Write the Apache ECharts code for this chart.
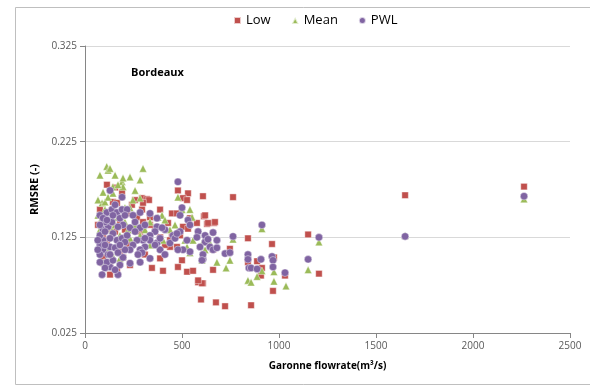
<!DOCTYPE html>
<html>
<head>
<meta charset="utf-8">
<script src="https://cdn.jsdelivr.net/npm/echarts@6/dist/echarts.min.js"></script>
<style>
  html, body { margin: 0; padding: 0; background: #fff; }
  #chart { width: 590px; height: 385px; }
</style>
</head>
<body>
<div id="chart"></div>
<script>
// Garonne flowrate (m3/s) and RMSRE pairs for each method
const lowFlow = [1650, 2263, 1150, 1206, 608, 763, 613, 629, 665, 840, 964, 747, 840, 887, 974, 660, 912, 907, 1031, 969,
  608, 402, 526, 557, 583, 603, 598, 675, 722, 856, 113, 155, 191, 144, 165, 242, 258, 294, 320, 330,
  299, 294, 387, 448, 474, 479, 531, 505, 526, 541, 619, 634, 670, 428, 505, 577, 531, 448, 438, 490,
  438, 474, 660, 500, 387, 479, 583, 180, 232, 196, 103, 93, 93, 129, 165, 335, 217, 268, 299, 180,
  113, 93, 155, 345, 77, 67, 387, 113,
  77, 139, 206, 284, 361, 222, 309, 103, 129, 412, 335];
const lowRmsre = [0.169, 0.178, 0.128, 0.087, 0.168, 0.167, 0.147, 0.139, 0.140, 0.124, 0.118, 0.113, 0.099, 0.100, 0.104, 0.091, 0.093, 0.085, 0.085, 0.069,
  0.077, 0.090, 0.089, 0.090, 0.078, 0.077, 0.060, 0.057, 0.053, 0.054, 0.180, 0.177, 0.172, 0.162, 0.161, 0.159, 0.164, 0.166, 0.165, 0.164,
  0.161, 0.154, 0.154, 0.150, 0.150, 0.174, 0.171, 0.166, 0.164, 0.145, 0.148, 0.140, 0.141, 0.140, 0.136, 0.140, 0.134, 0.126, 0.122, 0.127,
  0.115, 0.115, 0.112, 0.101, 0.103, 0.094, 0.080, 0.110, 0.096, 0.104, 0.112, 0.104, 0.098, 0.098, 0.091, 0.146, 0.150, 0.146, 0.141, 0.143,
  0.133, 0.125, 0.131, 0.093, 0.122, 0.138, 0.125, 0.117,
  0.154, 0.138, 0.133, 0.131, 0.135, 0.117, 0.107, 0.122, 0.086, 0.117, 0.138];

const meanFlow = [1650, 2263, 1206, 1150, 912, 763, 680, 747, 727, 912, 974, 887, 840, 856, 974, 1036, 112, 119, 129, 155,
  191, 196, 232, 284, 299, 93, 88, 103, 119, 144, 144, 196, 206, 232, 247, 284, 376, 397, 412, 479,
  500, 541, 552, 557, 526, 619, 541, 603, 402, 608, 644, 88, 103, 129, 170, 206, 77, 139, 180, 258,
  309, 77, 119, 335, 170, 67, 77, 258,
  67, 103, 155, 222, 284, 335, 98, 139, 180, 232, 438, 464, 515];
const meanRmsre = [0.127, 0.165, 0.120, 0.091, 0.134, 0.123, 0.099, 0.101, 0.093, 0.090, 0.089, 0.084, 0.080, 0.078, 0.079, 0.074, 0.199, 0.195, 0.197, 0.190,
  0.183, 0.187, 0.188, 0.185, 0.197, 0.172, 0.161, 0.162, 0.167, 0.178, 0.171, 0.178, 0.156, 0.156, 0.164, 0.166, 0.146, 0.148, 0.143, 0.167,
  0.154, 0.154, 0.146, 0.122, 0.115, 0.112, 0.109, 0.101, 0.122, 0.120, 0.119, 0.146, 0.141, 0.143, 0.146, 0.141, 0.133, 0.133, 0.127, 0.138,
  0.133, 0.117, 0.112, 0.141, 0.180, 0.164, 0.190, 0.174,
  0.148, 0.154, 0.138, 0.133, 0.127, 0.117, 0.099, 0.107, 0.103, 0.124, 0.133, 0.138, 0.122];

const pwlFlow = [1650, 2263, 1206, 1150, 912, 660, 763, 722, 747, 608, 840, 840, 907, 964, 969, 845, 856, 887, 969, 1031,
  170, 479, 191, 113, 139, 165, 191, 217, 335, 284, 247, 371, 500, 490, 531, 541, 583, 490, 454, 412,
  371, 361, 335, 335, 299, 268, 247, 309, 371, 387, 397, 438, 464, 474, 526, 577, 619, 644, 660, 680,
  593, 541, 505, 479, 608, 603, 284, 294, 196, 232, 180, 129, 113, 93, 93, 93, 119, 144, 165, 191,
  217, 232, 196, 170, 129, 155, 119, 170, 77, 77, 77, 103, 129, 103, 139, 155, 77, 129, 619, 680, 634,
  77, 93, 113, 144, 180, 206, 258, 284, 309, 258, 206, 232, 273, 335, 387, 412, 103, 144, 206, 77,
  66, 66, 103, 129, 309, 361, 180, 284, 155, 88];
const pwlRmsre = [0.126, 0.168, 0.125, 0.102, 0.138, 0.130, 0.126, 0.108, 0.109, 0.102, 0.107, 0.102, 0.102, 0.105, 0.101, 0.093, 0.093, 0.092, 0.094, 0.088,
  0.086, 0.183, 0.167, 0.151, 0.154, 0.151, 0.154, 0.154, 0.150, 0.151, 0.148, 0.145, 0.156, 0.148, 0.143, 0.138, 0.131, 0.131, 0.127, 0.133,
  0.136, 0.131, 0.127, 0.122, 0.122, 0.122, 0.117, 0.115, 0.119, 0.124, 0.135, 0.119, 0.124, 0.129, 0.122, 0.125, 0.120, 0.115, 0.112, 0.114,
  0.115, 0.110, 0.112, 0.112, 0.107, 0.101, 0.112, 0.109, 0.104, 0.098, 0.096, 0.094, 0.099, 0.112, 0.122, 0.133, 0.136, 0.129, 0.122, 0.124,
  0.127, 0.135, 0.138, 0.136, 0.115, 0.114, 0.107, 0.109, 0.127, 0.117, 0.107, 0.117, 0.124, 0.141, 0.141, 0.159, 0.148, 0.174, 0.127, 0.122, 0.123,
  0.138, 0.145, 0.143, 0.148, 0.145, 0.148, 0.141, 0.135, 0.138, 0.131, 0.120, 0.112, 0.107, 0.103, 0.112, 0.107, 0.093, 0.101, 0.112, 0.099,
  0.112, 0.122, 0.131, 0.107, 0.124, 0.117, 0.117, 0.099, 0.091, 0.086];

const seriesNames = ['Low', 'Mean', 'PWL'];
const xTicks = { min: 0, max: 2500, step: 500 };
const yTicks = { min: 0.025, max: 0.325, step: 0.1 };

const pair = (xs, ys) => xs.map((x, i) => [x, ys[i]]);

const chart = echarts.init(document.getElementById('chart'), null, { renderer: 'canvas' });
const baseFont = 'Open Sans, Liberation Sans, sans-serif';
const markerEdge = { borderColor: 'rgba(255,255,255,0.7)', borderWidth: 0.6, opacity: 1 };

chart.setOption({
  animation: false,
  backgroundColor: '#fff',
  graphic: [
    {
      type: 'rect', left: 13, top: 5, z: -10,
      shape: { width: 600, height: 377 },
      style: { fill: 'none', stroke: '#bfbfbf', lineWidth: 1 }
    },
    {
      type: 'text', left: 131, top: 67,
      style: { text: 'Bordeaux', font: 'bold 11px ' + baseFont, fill: '#000' }
    }
  ],
  legend: {
    top: 9, left: 228,
    itemWidth: 7, itemHeight: 7, itemGap: 20,
    textStyle: { fontFamily: baseFont, fontSize: 13, color: '#000' },
    data: [
      { name: 'Low', icon: 'rect' },
      { name: 'Mean', icon: 'triangle' },
      { name: 'PWL', icon: 'circle' }
    ]
  },
  grid: { left: 85, top: 46, right: 20, bottom: 52, containLabel: false },
  xAxis: {
    type: 'value',
    min: xTicks.min, max: xTicks.max, interval: xTicks.step,
    name: 'Garonne flowrate(m³/s)',
    nameLocation: 'middle', nameGap: 28,
    nameTextStyle: { fontFamily: baseFont, fontSize: 10, fontWeight: 'bold', color: '#000' },
    axisLine: { onZero: false, lineStyle: { color: '#868686' } },
    axisTick: { show: true, length: 5, lineStyle: { color: '#868686' } },
    axisLabel: { fontFamily: baseFont, fontSize: 10, color: '#595959', margin: 8, formatter: v => String(v) },
    splitLine: { show: false }
  },
  yAxis: {
    type: 'value',
    min: yTicks.min, max: yTicks.max, interval: yTicks.step,
    name: 'RMSRE (-)',
    nameLocation: 'middle', nameGap: 42,
    nameTextStyle: { fontFamily: baseFont, fontSize: 11, fontWeight: 'bold', color: '#000' },
    axisLine: { show: true, lineStyle: { color: '#868686' } },
    axisTick: { show: true, length: 5, lineStyle: { color: '#868686' } },
    axisLabel: {
      fontFamily: baseFont, fontSize: 10, color: '#595959', margin: 8,
      formatter: v => v.toFixed(3)
    },
    splitLine: { show: true, lineStyle: { color: '#d9d9d9', width: 1 } }
  },
  series: [
    {
      name: seriesNames[0], type: 'scatter', symbol: 'rect', symbolSize: 6.5,
      itemStyle: Object.assign({ color: '#C0504D' }, markerEdge),
      data: pair(lowFlow, lowRmsre)
    },
    {
      name: seriesNames[1], type: 'scatter', symbol: 'triangle', symbolSize: 7.5,
      itemStyle: Object.assign({ color: '#9BBB59' }, markerEdge),
      data: pair(meanFlow, meanRmsre)
    },
    {
      name: seriesNames[2], type: 'scatter', symbol: 'circle', symbolSize: 7.5,
      itemStyle: Object.assign({ color: '#8064A2' }, markerEdge),
      data: pair(pwlFlow, pwlRmsre)
    }
  ]
});
</script>
</body>
</html>
